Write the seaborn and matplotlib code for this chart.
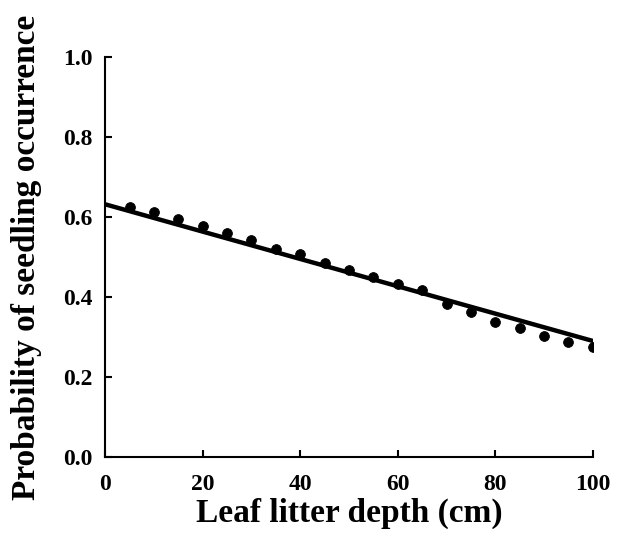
import seaborn as sns
import matplotlib.pyplot as plt

# observed probabilities at each litter depth
depth = [5, 10, 15, 20, 25, 30, 35, 40, 45, 50, 55, 60, 65, 70, 75, 80, 85, 90, 95, 100]
prob = [0.625, 0.612, 0.595, 0.578, 0.560, 0.543, 0.520, 0.508, 0.485, 0.468,
        0.450, 0.433, 0.418, 0.383, 0.363, 0.338, 0.323, 0.303, 0.288, 0.275]

# fitted line end points
fit_depth = [0, 100]
fit_prob = [0.632, 0.290]

sns.set_style('ticks', {'text.color': 'black', 'axes.labelcolor': 'black',
                        'axes.edgecolor': 'black', 'xtick.color': 'black',
                        'ytick.color': 'black'})
plt.rcParams['font.family'] = ['Liberation Serif', 'DejaVu Serif']
plt.rcParams['font.weight'] = 'bold'

fig = plt.figure(figsize=(6.26, 5.40), dpi=100)
ax = fig.add_axes([0.168, 0.154, 0.779, 0.740])

sns.lineplot(x=fit_depth, y=fit_prob, ax=ax, color='black', linewidth=3.2)
sns.scatterplot(x=depth, y=prob, ax=ax, color='black', s=50, edgecolor='black', zorder=3)

ax.set_xlim(0, 100)
ax.set_ylim(0, 1.0)
ax.set_xticks([0, 20, 40, 60, 80, 100])
ax.set_yticks([0, 0.2, 0.4, 0.6, 0.8, 1.0])
ax.set_yticklabels(['0.0', '0.2', '0.4', '0.6', '0.8', '1.0'])
ax.tick_params(direction='in', length=5, width=1.5, labelsize=17, colors='black')
ax.tick_params(axis='x', pad=12)
ax.tick_params(axis='y', pad=9)
for lab in ax.get_xticklabels() + ax.get_yticklabels():
    lab.set_fontweight('bold')

sns.despine(ax=ax)
for sp in ['left', 'bottom']:
    ax.spines[sp].set_linewidth(1.5)
    ax.spines[sp].set_color('black')

ax.set_xlabel('Leaf litter depth (cm)', fontsize=24, fontweight='bold', labelpad=2, color='black')
ax.set_ylabel('Probability of seedling occurrence', fontsize=24, fontweight='bold', labelpad=15, color='black')

fig.savefig('out.png', dpi=100)
